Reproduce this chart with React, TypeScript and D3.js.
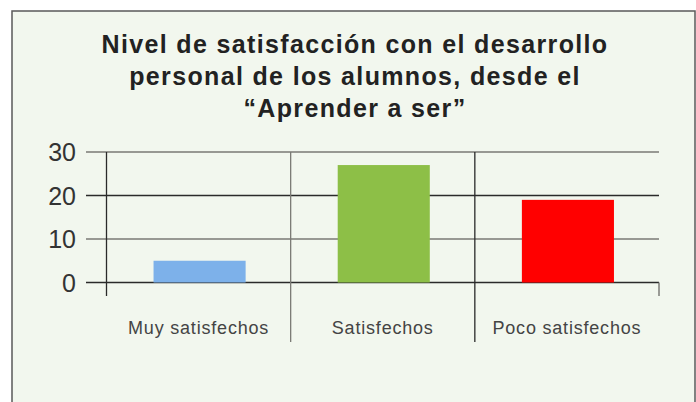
import React from "react";
import * as d3 from "d3";

const categories = ["Muy satisfechos", "Satisfechos", "Poco satisfechos"];
const values = [5, 27, 19];
const barColors = ["#7db1ea", "#8dbf47", "#ff0000"];
const yTicks = [0, 10, 20, 30];
const titleLines = [
  "Nivel de satisfacción con el desarrollo",
  "personal de los alumnos, desde el",
  "“Aprender a ser”",
];

const W = 696;
const H = 402;

export default function App() {
  const x = d3.scaleBand<string>().domain(categories).range([106.5, 659]).padding(0);
  const y = d3.scaleLinear().domain([0, 30]).range([282.5, 152]);
  const bw = x.bandwidth();
  const gridColor = (t: number) => (t === 20 || t === 0 ? "#2a2a2a" : "#7a7a74");
  const font = "'Liberation Sans', Arial, Helvetica, sans-serif";

  return (
    <svg
      width={W}
      height={H}
      style={{ position: "absolute", left: 0, top: 0, background: "#ffffff" }}
    >
      <rect x={12} y={11} width={683} height={400} fill="#f2f7ee" stroke="#5a5a5a" strokeWidth={1.5} />
      {titleLines.map((t, i) => (
        <text
          key={i}
          x={355}
          y={53 + i * 32}
          textAnchor="middle"
          fontFamily={font}
          fontWeight="bold"
          fontSize={25}
          letterSpacing={1.35}
          fill="#222222"
        >
          {t}
        </text>
      ))}
      {yTicks.map((t) => (
        <g key={t}>
          <line x1={86} x2={659} y1={y(t)} y2={y(t)} stroke={gridColor(t)} strokeWidth={1.3} />
          <text
            x={76}
            y={y(t)}
            dy="0.36em"
            textAnchor="end"
            fontFamily={font}
            fontSize={25}
            fill="#333333"
          >
            {t}
          </text>
        </g>
      ))}
      {/* left axis */}
      <line x1={106.5} x2={106.5} y1={152} y2={296} stroke="#2a2a2a" strokeWidth={1.3} />
      {/* category dividers */}
      {categories.slice(1).map((c, i) => (
        <line
          key={c}
          x1={x(c)!}
          x2={x(c)!}
          y1={152}
          y2={342}
          stroke={i === 0 ? "#7a7a74" : "#2a2a2a"}
          strokeWidth={1.3}
        />
      ))}
      <line x1={659} x2={659} y1={282.5} y2={296} stroke="#6a6a66" strokeWidth={1.3} />
      {categories.map((c, i) => (
        <rect
          key={c}
          x={x(c)! + bw * 0.25 + 1}
          y={y(values[i])}
          width={bw * 0.5}
          height={y(0) - y(values[i])}
          fill={barColors[i]}
        />
      ))}
      {categories.map((c) => (
        <text
          key={c}
          x={x(c)! + bw / 2}
          y={334}
          textAnchor="middle"
          fontFamily={font}
          fontSize={18}
          letterSpacing={0.8}
          fill="#444444"
        >
          {c}
        </text>
      ))}
    </svg>
  );
}
